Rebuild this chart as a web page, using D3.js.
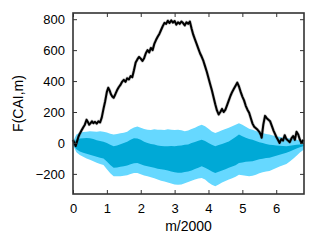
<!DOCTYPE html>
<meta charset="utf-8">
<style>
body { margin: 0; background: #fff; }
text { font-family: "Liberation Sans", Arial, sans-serif; fill: #000; }
</style>
<svg id="chart" width="316" height="244"></svg>
<script src="https://cdn.jsdelivr.net/npm/d3@7"></script>
<script>

// band sampling grid (m/2000)
var bandX = [0.0,0.1,0.2,0.3,0.4,0.5,0.6,0.7,0.8,0.9,1.0,1.1,1.2,1.3,1.4,1.5,1.6,1.7,1.8,1.9,
  2.0,2.1,2.2,2.3,2.4,2.5,2.6,2.7,2.8,2.9,3.0,3.1,3.2,3.3,3.4,3.5,3.6,3.7,3.8,3.9,
  4.0,4.1,4.2,4.3,4.4,4.5,4.6,4.7,4.8,4.9,5.0,5.1,5.2,5.3,5.4,5.5,5.6,5.7,5.8,5.9,
  6.0,6.1,6.2,6.3,6.4,6.5,6.6,6.7,6.82];

var outerTop = [10,55,66,70,73,76,74,72,75,72,68,60,54,58,63,66,72,88,100,106,
  98,90,86,84,88,85,86,84,88,86,84,86,82,76,80,90,98,110,118,108,
  92,74,64,72,82,90,98,108,118,128,118,104,92,86,78,70,64,58,54,48,
  44,40,34,32,28,26,22,15,5];

var innerTop = [0,20,28,30,32,30,26,18,12,8,0,-12,-22,-16,-8,0,8,20,30,28,
  20,8,0,-6,-10,-16,-20,-22,-22,-20,-22,-18,-16,-12,-10,0,6,14,21,12,
  0,-12,-22,-14,-6,2,10,24,38,54,44,34,26,20,12,5,0,-6,-11,-14,
  -16,-18,-20,-22,-18,-15,-12,-10,-8];

var innerBottom = [-8,-40,-55,-64,-70,-76,-82,-90,-95,-100,-120,-142,-160,-158,-154,-150,-146,-138,-132,-130,
  -138,-146,-151,-156,-160,-166,-170,-174,-178,-184,-190,-192,-192,-188,-185,-178,-168,-160,-151,-160,
  -172,-184,-194,-186,-178,-170,-161,-152,-144,-130,-126,-122,-120,-118,-112,-106,-102,-98,-96,-90,
  -82,-76,-70,-64,-55,-46,-36,-28,-20];

var outerBottom = [-15,-60,-78,-90,-100,-108,-118,-128,-136,-142,-170,-196,-215,-216,-215,-212,-208,-200,-195,-194,
  -202,-210,-215,-222,-228,-236,-244,-250,-256,-262,-268,-270,-268,-260,-252,-244,-236,-230,-226,-236,
  -256,-270,-280,-268,-256,-246,-237,-228,-218,-206,-208,-212,-215,-212,-205,-196,-190,-185,-182,-172,
  -162,-152,-144,-136,-120,-102,-82,-62,-42];

// observed F(CAI,m)
var lineX = [0.00,0.04,0.08,0.12,0.16,0.20,0.25,0.30,0.35,0.40,0.44,0.48,0.52,0.56,0.60,0.65,0.70,0.75,0.80,0.85,
  0.90,0.95,1.00,1.04,1.08,1.12,1.16,1.20,1.25,1.30,1.35,1.40,1.45,1.50,1.55,1.60,1.65,1.70,1.75,1.80,
  1.85,1.90,1.95,2.00,2.05,2.10,2.15,2.20,2.25,2.30,2.35,2.40,2.45,2.50,2.55,2.60,2.65,2.70,2.75,2.80,
  2.85,2.90,2.95,3.00,3.05,3.10,3.15,3.20,3.25,3.30,3.35,3.40,3.45,3.50,3.55,3.60,3.65,3.70,3.75,3.80,
  3.85,3.90,3.95,4.00,4.05,4.10,4.15,4.20,4.25,4.30,4.35,4.40,4.45,4.50,4.55,4.60,4.65,4.70,4.75,4.80,
  4.85,4.90,4.95,5.00,5.05,5.10,5.15,5.20,5.25,5.30,5.35,5.40,5.45,5.50,5.55,5.57,5.62,5.67,5.72,5.77,
  5.82,5.87,5.92,5.97,6.00,6.05,6.10,6.15,6.20,6.25,6.30,6.35,6.40,6.45,6.50,6.55,6.60,6.65,6.70,6.75,6.80];

var lineY = [20,0,-20,10,40,60,80,100,118,150,135,118,128,140,128,136,125,140,132,165,
  220,270,330,357,340,315,300,292,315,340,360,375,395,408,395,418,410,432,425,470,
  520,540,556,545,530,548,580,600,585,614,600,640,665,686,705,730,755,776,770,790,
  775,792,778,788,765,780,770,785,775,760,780,770,785,740,700,670,640,610,580,557,
  530,495,460,420,380,340,295,250,210,184,200,220,200,215,245,275,305,330,350,370,
  390,365,330,300,275,240,215,195,160,125,105,95,85,72,50,34,120,175,160,150,
  140,110,80,55,40,20,0,25,15,50,25,15,5,30,45,20,72,55,20,0,20];

var xTicks = [0,1,2,3,4,5,6];
var yTicks = [-200,0,200,400,600,800];

var svg = d3.select("#chart"),
    margin = {top: 13, right: 12, bottom: 50, left: 73},
    width = +svg.attr("width") - margin.left - margin.right,
    height = +svg.attr("height") - margin.top - margin.bottom;

var x = d3.scaleLinear().domain([0, 6.82]).range([0, width]);
var y = d3.scaleLinear().domain([-330, 840]).range([height, 0]);

var g = svg.append("g").attr("transform", "translate(" + margin.left + "," + margin.top + ")");

var bands = bandX.map(function(d, i) {
  return {x: d, ot: outerTop[i], it: innerTop[i], ib: innerBottom[i], ob: outerBottom[i]};
});

g.append("path")
    .datum(bands)
    .attr("fill", "#66d8ff")
    .attr("d", d3.area()
      .x(function(d) { return x(d.x); })
      .y0(function(d) { return y(d.ob); })
      .y1(function(d) { return y(d.ot); }));

g.append("path")
    .datum(bands)
    .attr("fill", "#00a9d6")
    .attr("d", d3.area()
      .x(function(d) { return x(d.x); })
      .y0(function(d) { return y(d.ib); })
      .y1(function(d) { return y(d.it); }));

var pts = lineX.map(function(d, i) { return [d, lineY[i]]; });
var line = d3.line()
    .x(function(d) { return x(d[0]); })
    .y(function(d) { return y(d[1]); });

// soft grey halo like the reference's blurred trace
g.append("path")
    .datum(pts)
    .attr("fill", "none")
    .attr("stroke", "#555")
    .attr("stroke-opacity", 0.35)
    .attr("stroke-width", 3.2)
    .attr("stroke-linejoin", "round")
    .attr("d", line);

g.append("path")
    .datum(pts)
    .attr("fill", "none")
    .attr("stroke", "#000")
    .attr("stroke-width", 2)
    .attr("stroke-linejoin", "round")
    .attr("d", line);

// axes with inward ticks, mirrored on top/right
var fmt = d3.format("d");
g.append("g").attr("transform", "translate(0," + height + ")")
    .call(d3.axisBottom(x).tickValues(xTicks).tickFormat(fmt).tickSizeInner(-4).tickSizeOuter(0).tickPadding(10));
g.append("g")
    .call(d3.axisTop(x).tickValues(xTicks).tickFormat("").tickSizeInner(-4).tickSizeOuter(0));
g.append("g")
    .call(d3.axisLeft(y).tickValues(yTicks).tickFormat(fmt).tickSizeInner(-4).tickSizeOuter(0).tickPadding(8));
g.append("g").attr("transform", "translate(" + width + ",0)")
    .call(d3.axisRight(y).tickValues(yTicks).tickFormat("").tickSizeInner(-4).tickSizeOuter(0));

g.selectAll(".domain").remove();
g.selectAll(".tick line").attr("stroke", "#333").attr("stroke-width", 1);
g.selectAll(".tick text").attr("font-size", 13).attr("fill", "#000");

g.append("rect")
    .attr("width", width)
    .attr("height", height)
    .attr("fill", "none")
    .attr("stroke", "#333")
    .attr("stroke-width", 1.6);

svg.append("text")
    .attr("transform", "translate(18," + (margin.top + height / 2) + ") rotate(-90)")
    .attr("text-anchor", "middle")
    .attr("dy", "0.35em")
    .attr("font-size", 14)
    .text("F(CAI,m)");

svg.append("text")
    .attr("x", margin.left + width / 2)
    .attr("y", 231)
    .attr("text-anchor", "middle")
    .attr("font-size", 14)
    .text("m/2000");

</script>
